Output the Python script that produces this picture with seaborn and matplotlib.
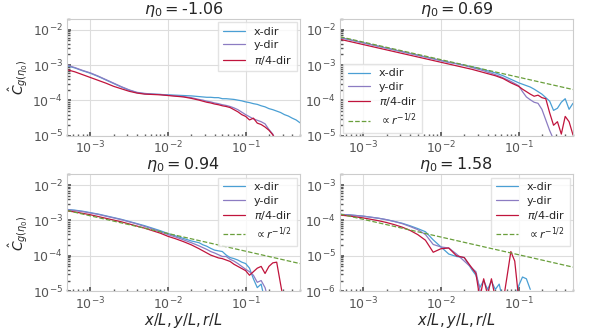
import numpy as np
import pandas as pd
import matplotlib
matplotlib.use("Agg")
import matplotlib.pyplot as plt
import seaborn as sns

# shared abscissa, log10(r/L)
log_r = [-3.3, -3.2, -3.1, -3.0, -2.9, -2.8, -2.7, -2.6, -2.5, -2.4, -2.3, -2.2,
         -2.1, -2.0, -1.9, -1.8, -1.7, -1.6,
         -1.55, -1.5, -1.45, -1.4, -1.35, -1.3, -1.25, -1.2, -1.15, -1.1, -1.05,
         -1.0, -0.95, -0.9, -0.85, -0.8, -0.75, -0.7, -0.65, -0.6, -0.55, -0.5,
         -0.45, -0.4, -0.35, -0.3]
nan = np.nan

titles = [r"$\eta_0 = $-1.06", r"$\eta_0 = $0.69", r"$\eta_0 = $0.94", r"$\eta_0 = $1.58"]
y_limits = [(1e-5, 2e-2), (1e-5, 2e-2), (1e-5, 2e-2), (1e-6, 2e-3)]
legend_locs = ["upper right", "lower left", "upper right", "upper right"]

# log10 of C_hat
p1_x = [-3.02, -3.08, -3.16, -3.23, -3.32, -3.42, -3.52, -3.62, -3.71, -3.78, -3.81, -3.82,
        -3.83, -3.84, -3.85, -3.86, -3.87, -3.89,
        -3.90, -3.91, -3.91, -3.92, -3.92, -3.95, -3.95, -3.96, -3.97, -3.99, -4.01,
        -4.04, -4.06, -4.09, -4.11, -4.15, -4.18, -4.23, -4.26, -4.30, -4.34, -4.40,
        -4.44, -4.50, -4.55, -4.63]
p1_y = [-3.00, -3.07, -3.15, -3.22, -3.31, -3.41, -3.51, -3.61, -3.70, -3.77, -3.80, -3.82,
        -3.83, -3.85, -3.87, -3.89, -3.92, -3.97,
        -3.99, -4.02, -4.04, -4.07, -4.09, -4.12, -4.14, -4.17, -4.21, -4.26, -4.33,
        -4.40, -4.46, -4.52, -4.56, -4.60, -4.66, -4.82, -4.95, -5.20, nan, nan,
        nan, nan, nan, nan]
p1_d = [-3.13, -3.19, -3.27, -3.35, -3.43, -3.51, -3.60, -3.67, -3.74, -3.79, -3.82, -3.83,
        -3.84, -3.86, -3.88, -3.90, -3.94, -3.99,
        -4.02, -4.05, -4.07, -4.10, -4.12, -4.15, -4.17, -4.20, -4.26, -4.32, -4.40,
        -4.45, -4.55, -4.50, -4.64, -4.68, -4.75, -4.84, -4.97, -5.20, nan, nan,
        nan, nan, nan, nan]

p2_x = [-2.22, -2.27, -2.32, -2.37, -2.42, -2.47, -2.52, -2.57, -2.62, -2.67, -2.72, -2.77,
        -2.82, -2.87, -2.92, -2.96, -3.00, -3.05,
        -3.07, -3.10, -3.13, -3.16, -3.19, -3.22, -3.26, -3.30, -3.35, -3.40, -3.45,
        -3.50, -3.54, -3.58, -3.62, -3.68, -3.75, -3.82, -3.92, -4.02, -4.28, -4.22,
        -4.05, -3.95, -4.25, -4.08]
p2_y = [-2.22, -2.27, -2.32, -2.37, -2.42, -2.47, -2.52, -2.57, -2.62, -2.67, -2.72, -2.77,
        -2.82, -2.87, -2.92, -2.96, -3.01, -3.07,
        -3.10, -3.13, -3.16, -3.20, -3.23, -3.27, -3.31, -3.36, -3.41, -3.46, -3.52,
        -3.58, -3.75, -3.90, -3.98, -4.05, -4.08, -4.25, -4.55, -4.85, -5.10, -5.40,
        nan, nan, nan, nan]
p2_d = [-2.27, -2.32, -2.37, -2.42, -2.47, -2.52, -2.57, -2.62, -2.67, -2.72, -2.77, -2.82,
        -2.87, -2.92, -2.97, -3.02, -3.07, -3.12,
        -3.15, -3.18, -3.21, -3.24, -3.27, -3.30, -3.34, -3.38, -3.44, -3.50, -3.55,
        -3.60, -3.68, -3.75, -3.82, -3.88, -3.85, -3.92, -3.95, -4.35, -4.70, -4.60,
        -4.95, -4.45, -4.60, -4.97]

p3_x = [-2.69, -2.71, -2.74, -2.78, -2.82, -2.87, -2.92, -2.97, -3.03, -3.09, -3.15, -3.22,
        -3.29, -3.37, -3.44, -3.51, -3.58, -3.63,
        -3.69, -3.73, -3.79, -3.84, -3.86, -3.88, -3.98, -4.05, -4.08, -4.12, -4.18,
        -4.22, -4.35, -4.65, -4.90, -4.80, -5.30, nan, nan, nan, nan, nan,
        nan, nan, nan, nan]
p3_y = [-2.70, -2.72, -2.75, -2.79, -2.83, -2.88, -2.93, -2.98, -3.04, -3.10, -3.17, -3.24,
        -3.32, -3.40, -3.47, -3.55, -3.63, -3.72,
        -3.77, -3.82, -3.88, -3.92, -3.97, -4.02, -4.02, -4.10, -4.15, -4.22, -4.30,
        -4.38, -4.45, -4.55, -4.75, -4.70, -4.90, -5.30, nan, nan, nan, nan,
        nan, nan, nan, nan]
p3_d = [-2.73, -2.76, -2.80, -2.84, -2.89, -2.94, -2.99, -3.04, -3.10, -3.16, -3.22, -3.29,
        -3.36, -3.45, -3.52, -3.60, -3.69, -3.80,
        -3.86, -3.92, -3.98, -4.02, -4.06, -4.08, -4.12, -4.16, -4.24, -4.30, -4.36,
        -4.42, -4.55, -4.45, -4.35, -4.30, -4.50, -4.30, -4.20, -4.18, -4.80, -5.40,
        nan, nan, nan, nan]

p4_x = [-3.83, -3.84, -3.86, -3.88, -3.91, -3.94, -3.98, -4.03, -4.08, -4.15, -4.23, -4.32,
        -4.55, -4.75, -4.95, -5.02, -5.05, -5.40,
        -5.55, -5.90, -5.70, -5.95, -5.72, -5.95, -5.80, -6.30, -6.30, -6.30, -6.20,
        -5.85, -5.60, -5.65, -5.95, nan, nan, nan, nan, nan, nan, nan,
        nan, nan, nan, nan]
p4_y = [-3.83, -3.84, -3.86, -3.88, -3.91, -3.94, -3.98, -4.03, -4.09, -4.17, -4.26, -4.40,
        -4.68, -4.75, -4.78, -4.95, -5.15, -5.35,
        -5.45, -5.95, -6.30, nan, nan, nan, nan, nan, nan, nan, nan,
        nan, nan, nan, nan, nan, nan, nan, nan, nan, nan, nan,
        nan, nan, nan, nan]
p4_d = [-3.85, -3.87, -3.90, -3.93, -3.97, -4.01, -4.06, -4.12, -4.19, -4.28, -4.40, -4.56,
        -4.90, -4.80, -4.78, -5.00, -5.05, -5.35,
        -5.50, -6.20, -5.65, -6.10, -5.65, -6.20, -6.30, -6.30, -5.60, -4.88, -5.15,
        -6.20, nan, nan, nan, nan, nan, nan, nan, nan, nan, nan,
        nan, nan, nan, nan]

# endpoints of the r^-1/2 guide (log10), None where not drawn
ref_x = [-3.3, -0.3]
ref_y = [None, [-2.20, -3.69], [-2.72, -4.22], [-3.82, -5.32]]

panels = [(p1_x, p1_y, p1_d), (p2_x, p2_y, p2_d), (p3_x, p3_y, p3_d), (p4_x, p4_y, p4_d)]

c_x = "#4a9fd4"
c_y = "#8c7cc2"
c_d = "#c0143c"
c_ref = "#6a9f3c"

sns.set_theme(style="whitegrid")
plt.rcParams["font.family"] = ["DejaVu Sans"]
plt.rcParams["mathtext.fontset"] = "dejavusans"

fig, axes = plt.subplots(2, 2, figsize=(5.98, 3.29), dpi=100)
fig.subplots_adjust(left=0.112, right=0.958, top=0.942, bottom=0.115,
                    wspace=0.172, hspace=0.33)

r = 10 ** np.array(log_r)
for i, ax in enumerate(axes.flat):
    cx, cy, cd = panels[i]
    sns.lineplot(x=r, y=10 ** np.array(cx), ax=ax, color=c_x, lw=0.9,
                 label="x-dir", estimator=None, sort=False)
    sns.lineplot(x=r, y=10 ** np.array(cy), ax=ax, color=c_y, lw=0.9,
                 label="y-dir", estimator=None, sort=False)
    sns.lineplot(x=r, y=10 ** np.array(cd), ax=ax, color=c_d, lw=0.9,
                 label=r"$\pi/4$-dir", estimator=None, sort=False)
    if ref_y[i] is not None:
        sns.lineplot(x=10 ** np.array(ref_x), y=10 ** np.array(ref_y[i]), ax=ax,
                     color=c_ref, lw=0.9, linestyle="--",
                     label=r"$\propto r^{-1/2}$", estimator=None, sort=False)
    ax.set_xscale("log")
    ax.set_yscale("log")
    ax.set_xlim(5e-4, 0.5)
    ax.set_ylim(*y_limits[i])
    ax.set_title(titles[i], fontsize=11.5, pad=1)
    ax.tick_params(which="both", direction="in", colors="#555555", labelsize=9,
                   bottom=True, left=True)
    ax.tick_params(which="major", length=3, pad=3)
    ax.tick_params(which="minor", length=1.8)
    ax.grid(True, which="major", color="#dddddd", lw=0.8)
    for s in ax.spines.values():
        s.set_color("#cccccc")
        s.set_linewidth(0.8)
    leg = ax.legend(loc=legend_locs[i], fontsize=8, frameon=True,
                    handlelength=2.0, borderpad=0.4, labelspacing=0.3,
                    fancybox=False, borderaxespad=0.3)
    leg.get_frame().set_edgecolor("#dddddd")
    ax.set_xlabel("")
    ax.set_ylabel("")

axes[0, 0].set_ylabel(r"$\hat{C}_{g(\eta_0)}$", fontsize=10, labelpad=2)
axes[1, 0].set_ylabel(r"$\hat{C}_{g(\eta_0)}$", fontsize=10, labelpad=2)
axes[1, 0].set_xlabel(r"$x/L, y/L, r/L$", fontsize=10.5, labelpad=-0.5)
axes[1, 1].set_xlabel(r"$x/L, y/L, r/L$", fontsize=10.5, labelpad=-0.5)

fig.savefig("out.png", dpi=100)
